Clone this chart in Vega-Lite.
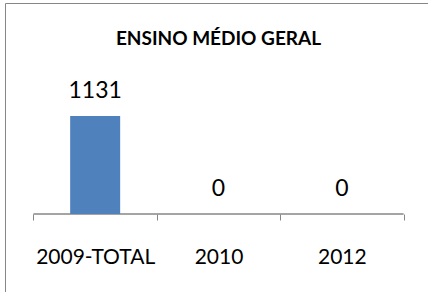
{
  "$schema": "https://vega.github.io/schema/vega-lite/v6.json",
  "width": 427,
  "height": 289,
  "autosize": {"type": "none"},
  "padding": {"left": 5, "top": 3, "right": 0, "bottom": 0},
  "background": "white",
  "config": {"view": {"stroke": "#868686", "strokeWidth": 1}, "font": "Lato"},
  "title": {"text": "ENSINO MÉDIO GERAL", "font": "Lato", "fontSize": 19, "fontWeight": "bold", "color": "black", "anchor": "middle", "baseline": "alphabetic", "offset": -61},
  "data": {"values": [
    {"ano": "2009-TOTAL", "valor": 1131},
    {"ano": "2010", "valor": 0},
    {"ano": "2012", "valor": 0}
  ]},
  "encoding": {
    "x": {
      "field": "ano", "type": "nominal", "sort": null,
      "scale": {"paddingInner": 0, "paddingOuter": 0.231},
      "axis": {"title": null, "orient": "bottom", "offset": -78, "domain": false, "tickBand": "extent", "tickSize": 6, "tickColor": "#868686", "labelAngle": 0, "labelFont": "Lato", "labelFontSize": 21, "labelColor": "black", "labelPadding": 26, "grid": false}
    },
    "y": {"field": "valor", "type": "quantitative", "scale": {"domain": [-900, 2435], "nice": false}, "axis": null}
  },
  "layer": [
    {"mark": {"type": "rect", "stroke": "#868686", "strokeWidth": 1, "fillOpacity": 0}, "encoding": {"y": {"datum": 0}, "y2": {"datum": 0}}},
    {"mark": {"type": "bar", "width": 50, "color": "#4F81BD"}},
    {"mark": {"type": "text", "baseline": "alphabetic", "dy": -18, "fontSize": 23, "font": "Lato", "color": "black"}, "encoding": {"text": {"field": "valor", "type": "nominal"}}}
  ]
}
